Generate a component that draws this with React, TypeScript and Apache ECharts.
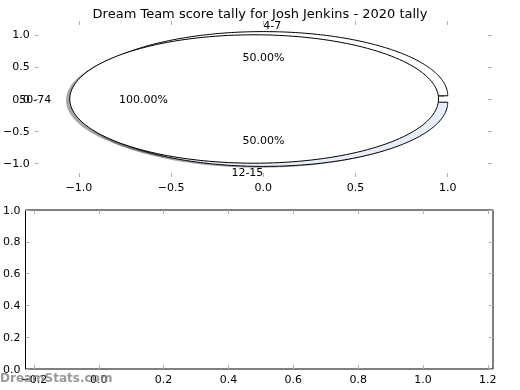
import React, { useEffect, useRef } from "react";
import * as echarts from "echarts";

const titleText = "Dream Team score tally for Josh Jenkins - 2020 tally";
const pieLabels = ["50-74", "4-7", "12-15"];
const pieFractions = [1.0, 0.5, 0.5];
const pieExplode = [0.05, 0.05, 0.05];
const pieColors = ["#ffffff", "#ffffff", "#e8eef9"];
const pieLayer = [3, 1, 2];
const pieTicks = [-1, -0.5, 0, 0.5, 1];
const lowerXTicks = [-0.2, 0, 0.2, 0.4, 0.6, 0.8, 1.0, 1.2];
const lowerYTicks = [0, 0.2, 0.4, 0.6, 0.8, 1.0];
const watermark = "DreamStats.com";

const FONT = "DejaVu Sans";
const fmt = (v: number) => v.toFixed(1).replace("-", "\u2212");
const tickStyle = (vals: number[]) => ({
  show: true,
  inside: true,
  length: 4,
  lineStyle: { color: "#b0b0b0", width: 1 },
  customValues: vals,
});
const labelStyle = (vals: number[], show: boolean) => ({
  show,
  customValues: vals,
  formatter: (v: number) => fmt(v),
  fontSize: 11,
  fontFamily: FONT,
  color: "#000",
  margin: 5,
});

export default function App() {
  const ref = useRef<HTMLDivElement>(null);
  useEffect(() => {
    if (!ref.current) return;
    const chart = echarts.init(ref.current, null, { renderer: "svg" });
    const mkAxis = (grid: number, min: number, max: number, vals: number[], pos: string, show: boolean) => ({
      type: "value",
      gridIndex: grid,
      min,
      max,
      position: pos,
      axisLine: { show: false, onZero: false },
      splitLine: { show: false },
      axisTick: tickStyle(vals),
      axisLabel: labelStyle(vals, show),
    });
    const renderItem = (params: any, api: any) => {
      const i = params.dataIndex;
      const frac = api.value(1);
      let t1 = 0;
      for (let k = 0; k < i; k++) t1 += pieFractions[k];
      const t2 = t1 + frac;
      const thm = Math.PI * (t1 + t2);
      const ex = pieExplode[i] * Math.cos(thm);
      const ey = pieExplode[i] * Math.sin(thm);
      const pts = (ox: number, oy: number) => {
        const p: number[][] = [];
        if (frac < 1) p.push(api.coord([ex + ox, ey + oy]));
        const a1 = 2 * Math.PI * t1;
        const a2 = 2 * Math.PI * t2;
        const n = 180;
        for (let s = 0; s <= n; s++) {
          const a = a1 + ((a2 - a1) * s) / n;
          p.push(api.coord([ex + ox + Math.cos(a), ey + oy + Math.sin(a)]));
        }
        return p;
      };
      const lx = 1.1 * Math.cos(thm) + ex;
      const ly = 1.1 * Math.sin(thm) + ey;
      const px = 0.6 * Math.cos(thm) + ex;
      const py = 0.6 * Math.sin(thm) + ey;
      const lp = api.coord([lx, ly]);
      const pp = api.coord([px, py]);
      return {
        type: "group",
        children: [
          {
            type: "polygon",
            z2: 0,
            shape: { points: pts(-0.02, -0.02) },
            style: { fill: "rgba(77,77,77,0.5)", stroke: "none" },
          },
          {
            type: "polygon",
            z2: pieLayer[i] * 10,
            shape: { points: pts(0, 0) },
            style: { fill: pieColors[i], stroke: "#000", lineWidth: 1 },
          },
          {
            type: "text",
            z2: 100,
            x: lp[0],
            y: lp[1],
            style: {
              text: pieLabels[i],
              align: Math.cos(thm) > 0 ? "left" : "right",
              verticalAlign: "middle",
              fontSize: 11,
              fontFamily: FONT,
              fill: "#000",
            },
          },
          {
            type: "text",
            z2: 100,
            x: pp[0],
            y: pp[1],
            style: {
              text: (frac * 100).toFixed(2) + "%",
              align: "center",
              verticalAlign: "middle",
              fontSize: 11,
              fontFamily: FONT,
              fill: "#000",
            },
          },
        ],
      };
    };
    chart.setOption({
      animation: false,
      title: {
        text: titleText,
        left: "center",
        top: 2,
        textStyle: { fontSize: 13, fontWeight: "normal", fontFamily: FONT, color: "#000" },
      },
      grid: [
        { left: 27, right: 28, top: 21, bottom: 213, show: false },
        { left: 25, right: 27, top: 210, bottom: 21, show: true, borderColor: "#000", borderWidth: 1, backgroundColor: "transparent" },
      ],
      xAxis: [
        mkAxis(0, -1.24, 1.24, pieTicks, "bottom", true),
        mkAxis(0, -1.24, 1.24, pieTicks, "top", false),
        mkAxis(1, -0.226, 1.216, lowerXTicks, "bottom", true),
        mkAxis(1, -0.226, 1.216, lowerXTicks, "top", false),
      ],
      yAxis: [
        mkAxis(0, -1.215, 1.215, pieTicks, "left", true),
        mkAxis(0, -1.215, 1.215, pieTicks, "right", false),
        mkAxis(1, 0, 1, lowerYTicks, "left", true),
        mkAxis(1, 0, 1, lowerYTicks, "right", false),
      ],
      series: [
        {
          type: "custom",
          xAxisIndex: 0,
          yAxisIndex: 0,
          clip: false,
          data: pieFractions.map((f, i) => [i, f]),
          renderItem,
        },
      ],
      graphic: [
        {
          type: "text",
          left: 0,
          top: 372,
          z: 100,
          style: { text: watermark, fontSize: 12, fontFamily: FONT, fontWeight: "bold", fill: "rgba(128,128,128,0.8)" },
        },
      ],
    });
    return () => chart.dispose();
  }, []);
  return <div ref={ref} style={{ position: "fixed", left: 0, top: 0, width: 520, height: 390 }} />;
}
